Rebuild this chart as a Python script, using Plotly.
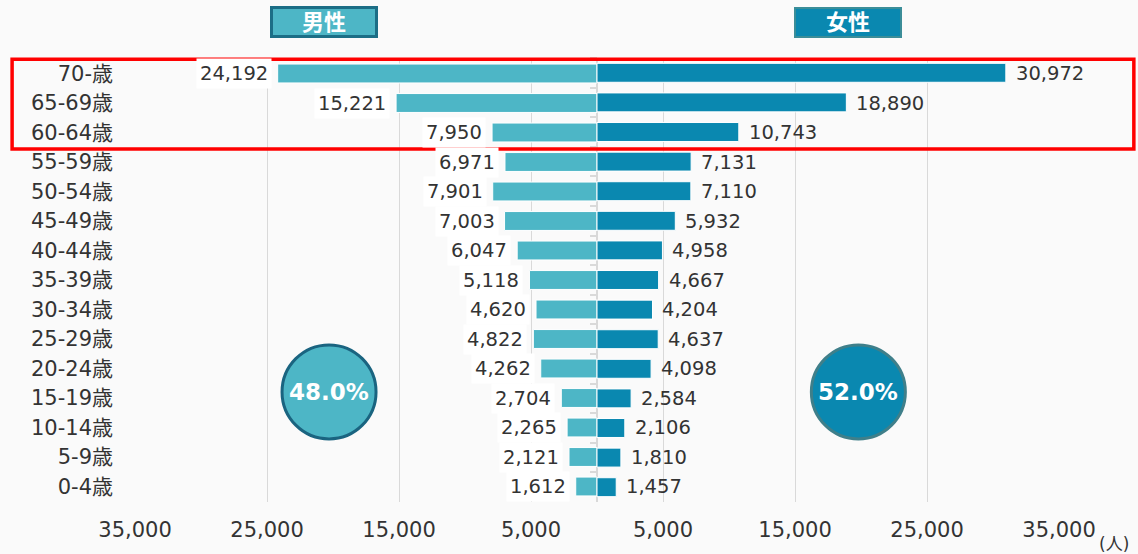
import plotly.graph_objects as go

ages = ["70-歳", "65-69歳", "60-64歳", "55-59歳", "50-54歳", "45-49歳", "40-44歳",
        "35-39歳", "30-34歳", "25-29歳", "20-24歳", "15-19歳", "10-14歳", "5-9歳", "0-4歳"]
male = [24192, 15221, 7950, 6971, 7901, 7003, 6047, 5118, 4620, 4822, 4262, 2704, 2265, 2121, 1612]
female = [30972, 18890, 10743, 7131, 7110, 5932, 4958, 4667, 4204, 4637, 4098, 2584, 2106, 1810, 1457]
tick_vals = [-35000, -25000, -15000, -5000, 5000, 15000, 25000, 35000]
tick_text = ["35,000", "25,000", "15,000", "5,000", "5,000", "15,000", "25,000", "35,000"]
male_share = "48.0%"
female_share = "52.0%"

MALE_C = "#4DB6C6"
FEMALE_C = "#0A88B0"
FONT = "DejaVu Sans, Noto Sans CJK JP, sans-serif"
TXT = "#333333"

fig = go.Figure()
fig.add_trace(go.Bar(y=ages, x=[-v for v in male], orientation="h",
                     marker=dict(color=MALE_C, line=dict(color="white", width=1)),
                     yaxis="y", showlegend=False, hoverinfo="skip"))
fig.add_trace(go.Bar(y=ages, x=female, orientation="h",
                     marker=dict(color=FEMALE_C, line=dict(color="white", width=1)),
                     yaxis="y2", showlegend=False, hoverinfo="skip"))

ann = []
for a, m, f in zip(ages, male, female):
    ann.append(dict(x=-m, y=a, xref="x", yref="y", text=f"{m:,}", showarrow=False,
                    xanchor="right", yanchor="middle", xshift=-6, bgcolor="white", borderpad=3,
                    font=dict(family=FONT, size=19.5, color=TXT)))
    ann.append(dict(x=f, y=a, xref="x", yref="y", text=f"{f:,}", showarrow=False,
                    xanchor="left", yanchor="middle", xshift=6, borderpad=3,
                    font=dict(family=FONT, size=19.5, color=TXT)))

# header boxes
ann.append(dict(x=-20650, y=1.081, xref="x", yref="paper", text="<b>男性</b>", showarrow=False,
                xanchor="center", yanchor="middle",
                bgcolor=MALE_C, bordercolor="#1C6E86", borderwidth=3, width=100, height=24,
                font=dict(family=FONT, size=22, color="white")))
ann.append(dict(x=19050, y=1.081, xref="x", yref="paper", text="<b>女性</b>", showarrow=False,
                xanchor="center", yanchor="middle",
                bgcolor=FEMALE_C, bordercolor="#3B8D98", borderwidth=2, width=102, height=25,
                font=dict(family=FONT, size=22, color="white")))
# share labels
ann.append(dict(x=-20300, y=0.248, xref="x", yref="paper", text=f"<b>{male_share}</b>", showarrow=False,
                xanchor="center", yanchor="middle",
                font=dict(family=FONT, size=23, color="white")))
ann.append(dict(x=19800, y=0.248, xref="x", yref="paper", text=f"<b>{female_share}</b>", showarrow=False,
                xanchor="center", yanchor="middle",
                font=dict(family=FONT, size=23, color="white")))
# unit
ann.append(dict(x=1.06, y=-0.094, xref="paper", yref="paper", text="(人)", showarrow=False,
                xanchor="center", yanchor="middle",
                font=dict(family=FONT, size=17, color=TXT)))

shapes = [
    dict(type="circle", xref="x", yref="paper", xsizemode="pixel", ysizemode="pixel",
         xanchor=-20300, yanchor=0.248, x0=-47, x1=47, y0=-47, y1=47,
         fillcolor=MALE_C, line=dict(color="#1A6480", width=3), layer="above"),
    dict(type="circle", xref="x", yref="paper", xsizemode="pixel", ysizemode="pixel",
         xanchor=19800, yanchor=0.248, x0=-47, x1=47, y0=-47, y1=47,
         fillcolor=FEMALE_C, line=dict(color="#3F7F8A", width=3), layer="above"),
    dict(type="rect", xref="paper", yref="paper", x0=-0.133, x1=1.081, y0=0.795, y1=0.997,
         line=dict(color="#FF0000", width=3.5), fillcolor="rgba(0,0,0,0)", layer="above"),
]

fig.update_layout(
    width=1138, height=554,
    margin=dict(l=135, r=79, t=58, b=52),
    paper_bgcolor="#fafafa", plot_bgcolor="#fafafa",
    bargap=0.36,
    font=dict(family=FONT, size=19, color=TXT),
    xaxis=dict(range=[-35000, 35000], tickvals=tick_vals, ticktext=tick_text,
               showgrid=True, gridcolor="#d9d9d9", gridwidth=1,
               zeroline=True, zerolinecolor="#d9d9d9", zerolinewidth=2,
               showline=False, ticks="", ticklabelstandoff=13,
               tickfont=dict(family=FONT, size=21, color=TXT)),
    yaxis=dict(categoryorder="array", categoryarray=ages, autorange="reversed",
               showgrid=False, zeroline=False, showline=False, ticks="",
               ticklabelstandoff=21, tickfont=dict(family=FONT, size=21, color=TXT)),
    yaxis2=dict(categoryorder="array", categoryarray=ages, autorange="reversed",
                overlaying="y", anchor="free", position=0.5, side="left",
                showgrid=False, zeroline=False, showline=False, showticklabels=False,
                ticks="outside", tickson="boundaries", ticklen=7, tickcolor="#d9d9d9", tickwidth=2),
    annotations=ann, shapes=shapes,
)

fig.write_html("out.html", config={"displayModeBar": False},
               post_script="document.body.style.margin='0';document.body.style.background='#fafafa';")
